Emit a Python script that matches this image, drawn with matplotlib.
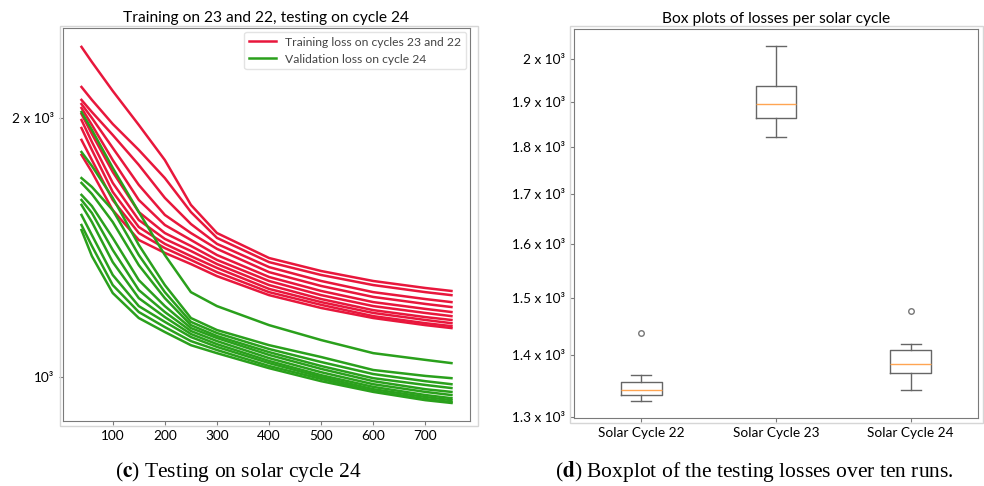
import matplotlib.pyplot as plt
from matplotlib.patches import Rectangle

plt.rcParams['font.family'] = ['Lato', 'DejaVu Sans']
plt.rcParams['mathtext.fontset'] = 'stix'

# loss curves, values read at these epochs
epochs = [40, 60, 100, 150, 200, 250, 300, 400, 500, 600, 700, 750]

train_runs = [
    [2419, 2323, 2150, 1963, 1787, 1585, 1470, 1375, 1328, 1293, 1269, 1259],
    [2173, 2099, 1968, 1836, 1703, 1555, 1451, 1360, 1314, 1279, 1255, 1245],
    [2099, 2032, 1911, 1764, 1615, 1506, 1428, 1342, 1293, 1255, 1232, 1222],
    [2076, 2000, 1846, 1672, 1543, 1470, 1409, 1324, 1276, 1239, 1216, 1206],
    [2054, 1963, 1787, 1606, 1502, 1443, 1386, 1307, 1259, 1222, 1200, 1190],
    [2022, 1916, 1731, 1555, 1470, 1420, 1368, 1293, 1245, 1209, 1187, 1177],
    [1989, 1876, 1681, 1522, 1447, 1401, 1353, 1279, 1232, 1196, 1174, 1165],
    [1947, 1836, 1641, 1494, 1428, 1382, 1339, 1266, 1222, 1187, 1165, 1155],
    [1886, 1787, 1606, 1470, 1412, 1368, 1324, 1255, 1213, 1177, 1155, 1146],
    [1812, 1731, 1563, 1443, 1394, 1353, 1310, 1245, 1203, 1171, 1149, 1140],
]

val_runs = [
    [2032, 1937, 1750, 1555, 1386, 1255, 1209, 1149, 1104, 1066, 1047, 1038],
    [1826, 1759, 1615, 1424, 1279, 1171, 1134, 1089, 1055, 1019, 1003, 997],
    [1703, 1663, 1563, 1386, 1255, 1159, 1125, 1078, 1041, 1008, 989, 981],
    [1681, 1632, 1514, 1349, 1235, 1149, 1116, 1069, 1030, 997, 979, 971],
    [1628, 1580, 1451, 1296, 1209, 1140, 1110, 1061, 1022, 989, 968, 961],
    [1606, 1551, 1405, 1262, 1190, 1131, 1101, 1052, 1013, 981, 961, 953],
    [1585, 1514, 1360, 1235, 1174, 1122, 1092, 1044, 1005, 974, 953, 945],
    [1543, 1462, 1314, 1209, 1159, 1113, 1084, 1038, 1000, 968, 948, 940],
    [1502, 1420, 1279, 1190, 1143, 1101, 1075, 1030, 995, 963, 943, 935],
    [1482, 1382, 1252, 1171, 1128, 1089, 1066, 1024, 989, 961, 940, 933],
]

# box plot stats per solar cycle
cycles = ['Solar Cycle 22', 'Solar Cycle 23', 'Solar Cycle 24']
box_lo = [1325, 1821, 1343]
box_q1 = [1335, 1863, 1371]
box_med = [1343, 1895, 1386]
box_q3 = [1356, 1936, 1409]
box_hi = [1367, 2032, 1419]
box_fliers = [[1438], [], [1477]]

red = '#e8173c'
green = '#2aa01c'
frame = '#7a7a7a'

fig = plt.figure(figsize=(9.84, 4.86), dpi=100)

# light grey borders of the original screenshots
fig.patches.append(Rectangle((60 / 984, 60 / 486), 418 / 984, 400 / 486, transform=fig.transFigure,
                             fill=False, edgecolor='#d6d6d6', lw=1))
fig.patches.append(Rectangle((570 / 984, 63 / 486), 413 / 984, 397 / 486, transform=fig.transFigure,
                             fill=False, edgecolor='#d6d6d6', lw=1))

ax1 = fig.add_axes([0.064, 0.1337, 0.4136, 0.8086])
for i, run in enumerate(train_runs):
    ax1.plot(epochs, run, color=red, lw=1.8, label='Training loss on cycles 23 and 22' if i == 0 else None)
for i, run in enumerate(val_runs):
    ax1.plot(epochs, run, color=green, lw=1.8, label='Validation loss on cycle 24' if i == 0 else None)

ax1.set_yscale('log')
ax1.set_xlim(4.5, 785.5)
ax1.set_ylim(889, 2544)
ax1.set_xticks([100, 200, 300, 400, 500, 600, 700])
ax1.set_yticks([1000, 2000])
ax1.set_yticklabels(['10³', '2 x 10³'])
ax1.minorticks_off()
ax1.set_title('Training on 23 and 22, testing on cycle 24', fontsize=11.2, pad=4)
ax1.legend(loc='upper right', fontsize=8.7, frameon=True, edgecolor='#dddddd', labelcolor='#444444',
           borderaxespad=0.3, handlelength=2.2)

ax2 = fig.add_axes([0.5833, 0.1399, 0.4106, 0.8004])
stats = []
for i in range(len(cycles)):
    stats.append({'med': box_med[i], 'q1': box_q1[i], 'q3': box_q3[i],
                  'whislo': box_lo[i], 'whishi': box_hi[i], 'fliers': box_fliers[i], 'label': cycles[i]})
ax2.bxp(stats, widths=0.3,
        boxprops=dict(color='#666666', lw=1),
        whiskerprops=dict(color='#666666', lw=1),
        capprops=dict(color='#666666', lw=1),
        medianprops=dict(color='#ffa552', lw=1),
        flierprops=dict(marker='o', markersize=4, markerfacecolor='none', markeredgecolor='#777777'))
ax2.set_yscale('log')
ax2.set_ylim(1298, 2074)
ax2.set_xlim(0.5, 3.5)
yt = [1300, 1400, 1500, 1600, 1700, 1800, 1900, 2000]
ax2.set_yticks(yt)
ax2.set_yticklabels(['1.3 x 10³', '1.4 x 10³', '1.5 x 10³', '1.6 x 10³', '1.7 x 10³',
                     '1.8 x 10³', '1.9 x 10³', '2 x 10³'])
ax2.minorticks_off()
ax2.set_title('Box plots of losses per solar cycle', fontsize=11.2, pad=4)

for ax in (ax1, ax2):
    for s in ax.spines.values():
        s.set_color(frame)
    ax.tick_params(labelsize=9.8, color=frame, length=3)

fig.text(0.242, 0.029, r'($\mathbf{c}$) Testing on solar cycle 24', ha='center', va='center',
         fontsize=15.5, family=['Liberation Serif', 'DejaVu Serif'])
fig.text(0.767, 0.029, r'($\mathbf{d}$) Boxplot of the testing losses over ten runs.', ha='center',
         va='center', fontsize=15.5, family=['Liberation Serif', 'DejaVu Serif'])

plt.savefig('out.png', dpi=100)
